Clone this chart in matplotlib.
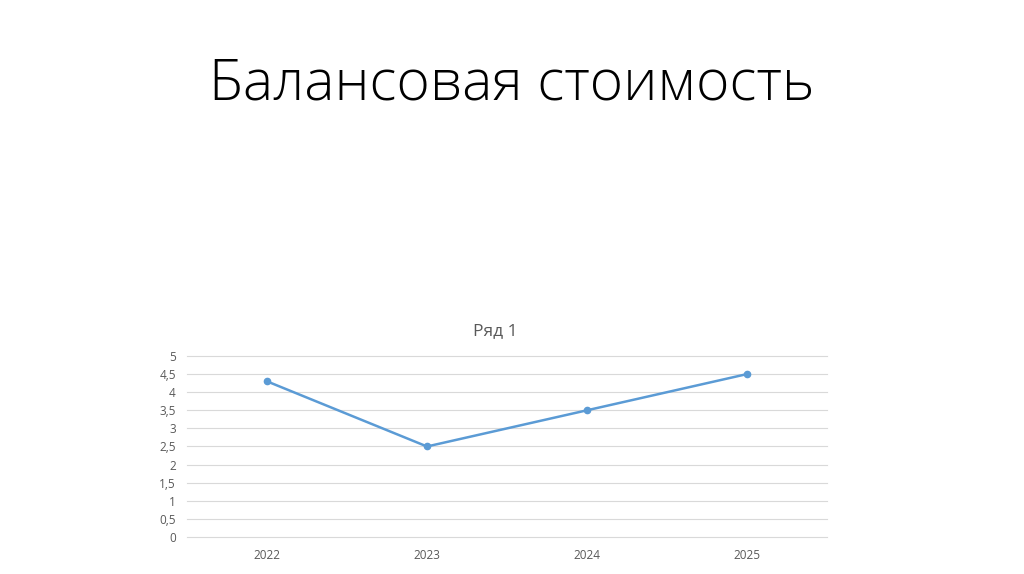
import matplotlib
matplotlib.use("Agg")
import matplotlib.pyplot as plt

# данные графика
years = ["2022", "2023", "2024", "2025"]
values = [4.3, 2.5, 3.5, 4.5]
y_ticks = [0, 0.5, 1, 1.5, 2, 2.5, 3, 3.5, 4, 4.5, 5]
y_labels = ["0", "0,5", "1", "1,5", "2", "2,5", "3", "3,5", "4", "4,5", "5"]

plt.rcParams['font.family'] = ['Open Sans', 'DejaVu Sans']

fig = plt.figure(figsize=(10.24, 5.74), dpi=100)
fig.patch.set_facecolor("white")

fig.text(0.5, 0.852, "Балансовая стоимость", ha="center", va="center",
         fontsize=41, fontweight="light", color="#000000")

ax = fig.add_axes([0.1826, 0.0645, 0.625, 0.3153])
x = range(len(years))
ax.plot(x, values, color="#5B9BD5", linewidth=1.8, marker="o", markersize=4.5)
ax.set_xlim(-0.5, len(years) - 0.5)
ax.set_ylim(0, 5)
ax.set_xticks(list(x))
ax.set_xticklabels(years)
ax.set_yticks(y_ticks)
ax.set_yticklabels(y_labels)
ax.grid(axis="y", color="#D9D9D9", linewidth=0.8)
for gl in ax.get_ygridlines():
    gl.set_clip_on(False)
ax.set_axisbelow(True)
for s in ax.spines.values():
    s.set_visible(False)
ax.tick_params(length=0, labelsize=8.5, colors="#595959")
ax.tick_params(axis="x", pad=9)
ax.tick_params(axis="y", pad=8)

fig.text(0.4834, 0.423, "Ряд 1", ha="center", va="center", fontsize=12.5, color="#595959")

fig.savefig("out.png", dpi=100)
